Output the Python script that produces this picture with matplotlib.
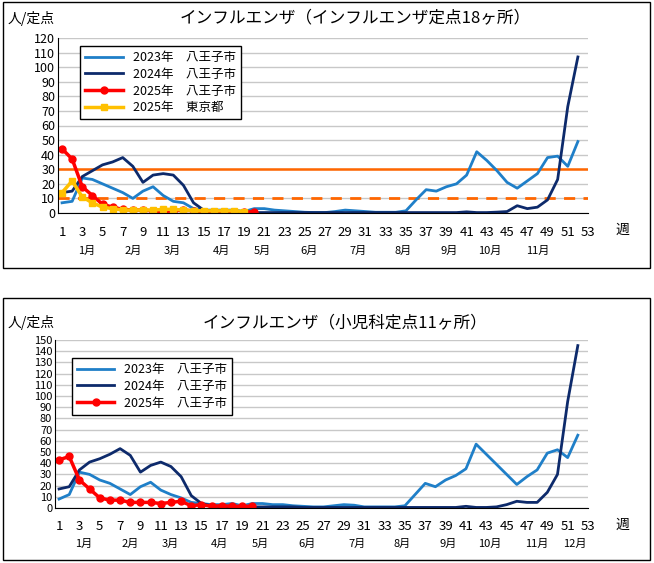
import matplotlib
matplotlib.use("Agg")
import matplotlib.pyplot as plt
from matplotlib.patches import Rectangle
import matplotlib.transforms as mtrans

plt.rcParams["font.family"] = "Noto Sans CJK JP"

weeks = list(range(1, 53))
top_2023 = [7, 8, 24, 23, 20, 17, 14, 10, 15, 18, 12, 8, 7, 3, 2, 2, 2, 2, 1, 3, 3, 2, 1.5, 1, 0.5, 0.3,
            0.3, 1, 2, 1.5, 1, 0.5, 0.5, 0.5, 1.5, 9, 16, 15, 18, 20, 26, 42, 36, 29, 21, 17, 22, 27, 38, 39, 32, 49]
top_2024 = [14, 15, 25, 29, 33, 35, 38, 32, 21, 26, 27, 26, 19, 7, 2, 1, 0.5, 0.3, 0.3, 0.3, 0.3, 0.3, 0.3, 0.3, 0.3, 0.3,
            0.3, 0.3, 0.3, 0.3, 0.3, 0.3, 0.3, 0.3, 0.3, 0.3, 0.3, 0.3, 0.3, 0.3, 0.8, 0.3, 0.3, 0.6, 1, 5, 3, 4, 9, 23, 73, 107]
top_2025 = [44, 37, 18, 12, 6, 4, 2.5, 2, 2, 1.5, 1, 1.5, 2, 1.5, 1, 1, 1, 0.5, 0.5, 1]
top_tokyo = [14, 22, 11, 7, 4, 3, 2, 2, 2, 2, 2.5, 2.5, 2, 1.5, 1.5, 1.5, 1.5, 1.5, 1]

bot_2023 = [8, 12, 32, 30, 25, 22, 17, 12, 19, 23, 16, 12, 9, 5, 4, 3, 3, 4, 2, 4, 4, 3, 3, 2, 1.5, 1,
            1, 2, 3, 2.5, 1, 1, 1, 1, 2, 12, 22, 19, 25, 29, 35, 57, 48, 39, 30, 21, 28, 34, 49, 52, 45, 65]
bot_2024 = [17, 19, 34, 41, 44, 48, 53, 47, 32, 38, 41, 37, 28, 11, 4, 2, 1, 1, 1, 1, 1, 1, 1, 1, 0.5, 0.5,
            0.5, 0.5, 0.5, 0.5, 0.5, 0.5, 0.5, 0.5, 0.5, 0.5, 0.5, 0.5, 0.5, 0.5, 1.5, 0.5, 0.5, 1, 3, 6, 5, 5, 14, 30, 95, 145]
bot_2025 = [43, 46, 25, 17, 9, 7, 7, 5, 5, 5, 4, 5, 6, 2, 3, 1.5, 2, 1.5, 1.5, 1.5]

xtick_labels = list(range(1, 54, 2))
months_top = ["1月", "2月", "3月", "4月", "5月", "6月", "7月", "8月", "9月", "10月", "11月"]
month_pos_top = [3.4, 8.0, 11.9, 16.8, 20.8, 25.4, 30.3, 34.7, 39.3, 43.3, 48.0]
months_bot = months_top + ["12月"]
month_pos_bot = [3.4, 8.0, 11.9, 16.8, 20.8, 25.4, 30.3, 34.7, 39.3, 43.3, 48.0, 51.7]

W, H = 654, 563
fig = plt.figure(figsize=(W / 100, H / 100), dpi=100)

def frame(x0, y0, x1, y1):
    fig.patches.append(Rectangle((x0 / W, 1 - y1 / H), (x1 - x0) / W, (y1 - y0) / H,
                                 transform=fig.transFigure, fill=False, ec="black", lw=1))

frame(3, 2, 650, 268)
frame(3, 298, 650, 560)

C23, C24, C25, CT = "#1f7fc8", "#0d2a6b", "#ff0000", "#ffc000"

def setup(ax, ymax, step, months, mpos, ysize):
    ax.set_xlim(0.6, 53)
    ax.set_ylim(0, ymax)
    ax.set_yticks(range(0, ymax + 1, step))
    ax.set_xticks(xtick_labels)
    ax.tick_params(length=0, labelsize=9.5, pad=9, axis="x")
    ax.tick_params(length=0, labelsize=ysize, pad=2, axis="y")
    ax.grid(axis="y", color="#c8c8c8", lw=1)
    ax.set_axisbelow(True)
    for s in ["top", "right"]:
        ax.spines[s].set_visible(False)
    trans = mtrans.blended_transform_factory(ax.transData, ax.transAxes)
    for m, p in zip(months, mpos):
        ax.text(p, -0.215, m, transform=trans, ha="center", va="center", fontsize=8)

# top chart
ax1 = fig.add_axes([58 / W, 1 - 213 / H, 530 / W, 175 / H])
setup(ax1, 120, 10, months_top, month_pos_top, 9)
ax1.axhline(30, color="#ff6600", lw=1.8)
ax1.axhline(10, color="#ff6600", lw=2, ls=(0, (4, 3)))
ax1.plot(weeks, top_2023, color=C23, lw=2, label="2023年　八王子市")
ax1.plot(weeks, top_2024, color=C24, lw=2, label="2024年　八王子市")
ax1.plot(range(1, len(top_2025) + 1), top_2025, color=C25, lw=2.5, marker="o", ms=5, label="2025年　八王子市")
ax1.plot(range(1, len(top_tokyo) + 1), top_tokyo, color=CT, lw=2.5, marker="s", ms=4.5, label="2025年　東京都")
ax1.legend(loc="upper left", bbox_to_anchor=(0.03, 0.99), fontsize=9, frameon=True, fancybox=False,
           edgecolor="black", framealpha=1, handlelength=3, borderpad=0.4, labelspacing=0.3)
fig.text(8 / W, 1 - 18 / H, "人/定点", fontsize=10, va="center")
fig.text(355 / W, 1 - 18 / H, "インフルエンザ（インフルエンザ定点18ヶ所）", fontsize=12, ha="center", va="center")
fig.text(615 / W, 1 - 230 / H, "週", fontsize=10, va="center")

# bottom chart
ax2 = fig.add_axes([55 / W, 1 - 508 / H, 533 / W, 168 / H])
setup(ax2, 150, 10, months_bot, month_pos_bot, 8)
ax2.plot(weeks, bot_2023, color=C23, lw=2, label="2023年　八王子市")
ax2.plot(weeks, bot_2024, color=C24, lw=2, label="2024年　八王子市")
ax2.plot(range(1, len(bot_2025) + 1), bot_2025, color=C25, lw=2.5, marker="o", ms=5, label="2025年　八王子市")
ax2.legend(loc="upper left", bbox_to_anchor=(0.02, 0.93), fontsize=9, frameon=True, fancybox=False,
           edgecolor="black", framealpha=1, handlelength=3, borderpad=0.4, labelspacing=0.3)
fig.text(8 / W, 1 - 323 / H, "人/定点", fontsize=10, va="center")
fig.text(345 / W, 1 - 323 / H, "インフルエンザ（小児科定点11ヶ所）", fontsize=12, ha="center", va="center")
fig.text(615 / W, 1 - 525 / H, "週", fontsize=10, va="center")

fig.savefig("out.png", dpi=100)
